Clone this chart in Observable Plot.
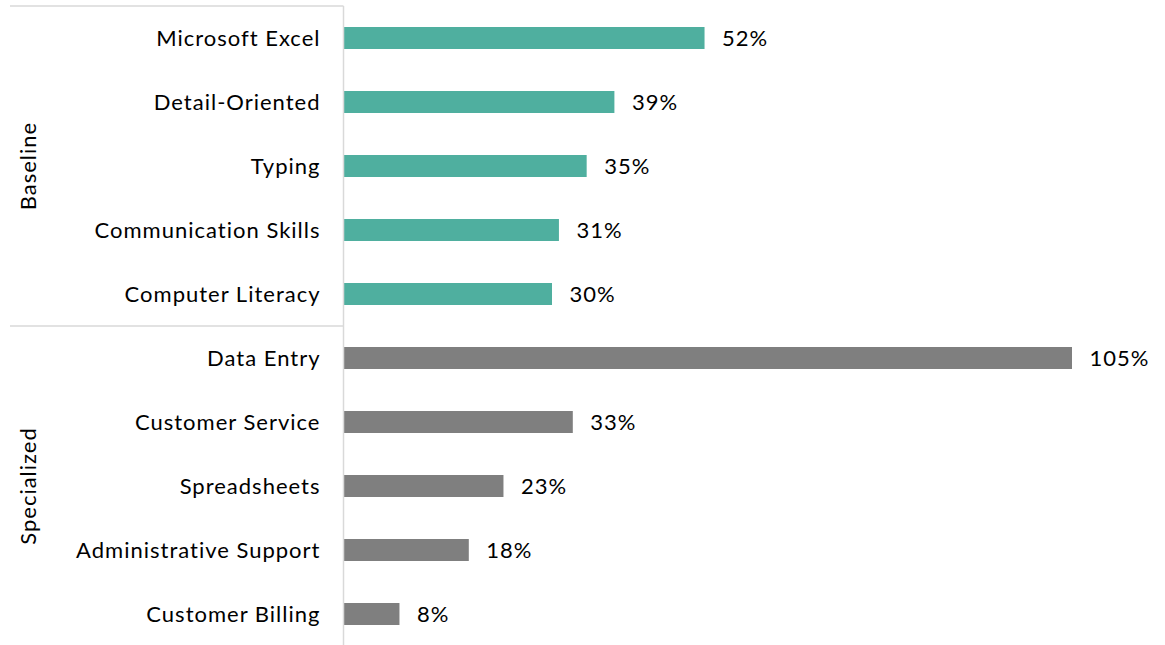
<!DOCTYPE html>
<html>
<head>
<meta charset="utf-8">
<script src="https://cdn.jsdelivr.net/npm/d3@7"></script>
<script src="https://cdn.jsdelivr.net/npm/@observablehq/plot@0.6"></script>
<style>
  html, body { margin: 0; padding: 0; background: #fff; overflow: hidden; }
  #chart svg { display: block; }
  #chart svg text { letter-spacing: 1px; }
</style>
</head>
<body>
<div id="chart"></div>
<script>
const skills = ["Microsoft Excel", "Detail-Oriented", "Typing", "Communication Skills", "Computer Literacy",
                "Data Entry", "Customer Service", "Spreadsheets", "Administrative Support", "Customer Billing"];
const values = [52, 39, 35, 31, 30, 105, 33, 23, 18, 8];
const groups = ["Baseline", "Baseline", "Baseline", "Baseline", "Baseline",
                "Specialized", "Specialized", "Specialized", "Specialized", "Specialized"];
const groupNames = ["Baseline", "Specialized"];
const groupColors = ["#4faf9f", "#7f7f7f"];

const data = skills.map((s, i) => ({skill: s, value: values[i], group: groups[i]}));

const FONT = "Lato, 'Open Sans', sans-serif";
const FS = 22;

const plot = Plot.plot({
  width: 1165,
  height: 646,
  marginLeft: 344,
  marginRight: 93,
  marginTop: 6,
  marginBottom: 0,
  style: {fontFamily: FONT, fontSize: FS + "px", color: "#000", background: "#fff"},
  x: {domain: [0, 105], axis: null},
  y: {domain: skills, paddingInner: 0.656, paddingOuter: 0.328, label: null},
  color: {domain: groupNames, range: groupColors},
  marks: [
    Plot.axisY({tickSize: 0, tickPadding: 24, fontSize: FS, fill: "#000", label: null}),
    Plot.barX(data, {x: "value", y: "skill", fill: "group"}),
    Plot.text(data, {x: "value", y: "skill", text: d => d.value + "%", textAnchor: "start", dx: 17, fontSize: FS, fill: "#000"})
  ]
});

// Group separators and group labels, positioned from the plot's own y scale
const y = plot.scale("y");
const bw = y.bandwidth, step = y.step;
const svg = d3.select(plot);
const g = svg.append("g");
const lineColor = "#d9d9d9";
const axisX = 343.5;
g.append("line").attr("x1", axisX).attr("x2", axisX)
  .attr("y1", y.apply(skills[0]) - (step - bw) / 2).attr("y2", 646)
  .attr("stroke", lineColor).attr("stroke-width", 1.5);
groupNames.forEach(gn => {
  const members = skills.filter((s, i) => groups[i] === gn);
  const top = y.apply(members[0]) - (step - bw) / 2;
  const bottom = y.apply(members[members.length - 1]) + bw + (step - bw) / 2;
  g.append("line").attr("x1", 10).attr("x2", axisX)
    .attr("y1", top).attr("y2", top)
    .attr("stroke", lineColor).attr("stroke-width", 1.5);
  const cy = (top + bottom) / 2;
  g.append("text")
    .attr("transform", `translate(36,${cy}) rotate(-90)`)
    .attr("text-anchor", "middle")
    .attr("font-family", FONT)
    .attr("font-size", FS)
    .attr("fill", "#000")
    .text(gn);
});

document.getElementById("chart").appendChild(plot);
</script>
</body>
</html>
